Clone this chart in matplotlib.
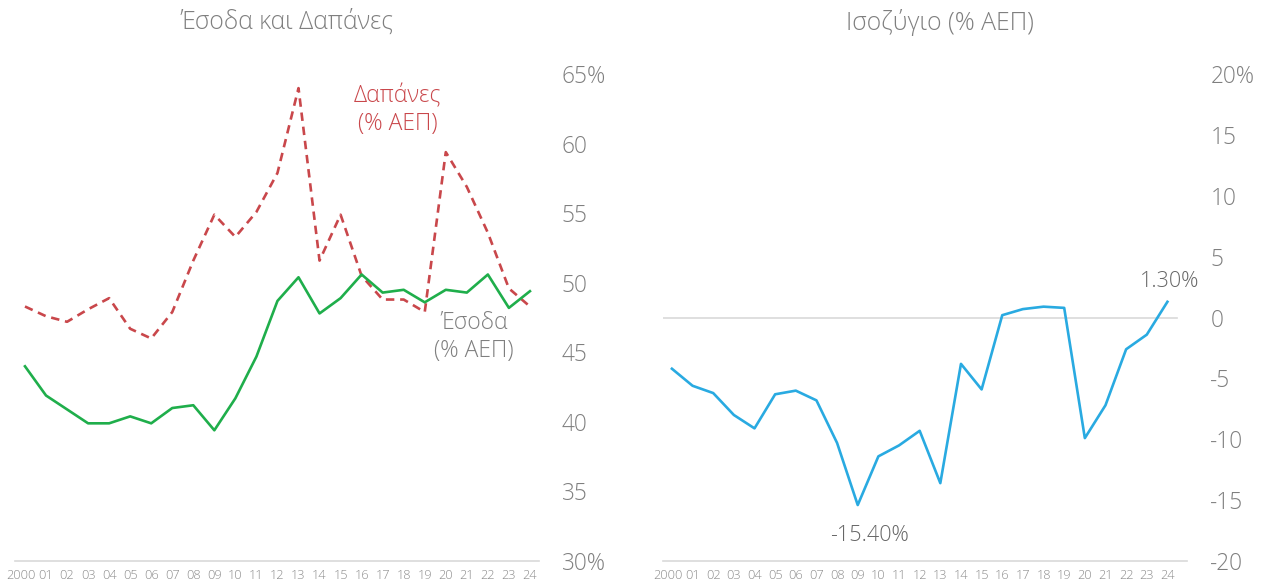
import matplotlib
matplotlib.use("Agg")
import matplotlib.pyplot as plt
import matplotlib.transforms as mtransforms

plt.rcParams['font.family'] = ['Open Sans', 'DejaVu Sans']
plt.rcParams['font.weight'] = 'light'

GREY = '#7f7f7f'
GREEN = '#1fae4b'
RED = '#c9474b'
BLUE = '#29aae1'

years = ['2000', '01', '02', '03', '04', '05', '06', '07', '08', '09', '10', '11', '12',
         '13', '14', '15', '16', '17', '18', '19', '20', '21', '22', '23', '24']

# % of GDP
revenue = [44.0, 41.9, 40.9, 39.9, 39.9, 40.4, 39.9, 41.0, 41.2, 39.4, 41.7, 44.7, 48.7,
           50.4, 47.8, 48.9, 50.6, 49.3, 49.5, 48.6, 49.5, 49.3, 50.6, 48.2, 49.4]
spending = [48.3, 47.6, 47.2, 48.1, 48.9, 46.7, 46.0, 47.9, 51.6, 54.9, 53.3, 55.1, 57.9,
            64.0, 51.6, 54.9, 50.5, 48.8, 48.8, 47.9, 59.4, 56.9, 53.6, 49.6, 48.3]
balance = [-4.2, -5.6, -6.2, -8.0, -9.1, -6.3, -6.0, -6.8, -10.3, -15.4, -11.4, -10.5, -9.3,
           -13.6, -3.8, -5.9, 0.2, 0.7, 0.9, 0.8, -9.9, -7.2, -2.6, -1.4, 1.3]

left_ticks = [30, 35, 40, 45, 50, 55, 60, 65]
left_labels = ['30%', '35', '40', '45', '50', '55', '60', '65%']
right_ticks = [-20, -15, -10, -5, 0, 5, 10, 15, 20]
right_labels = ['-20', '-15', '-10', '-5', '0', '5', '10', '15', '20%']

x = list(range(len(years)))

fig = plt.figure(figsize=(12.7, 5.83), dpi=100)
ax1 = fig.add_axes([0.0118, 0.0377, 0.4126, 0.835])
ax2 = fig.add_axes([0.522, 0.0377, 0.413, 0.835])


def style_axis(ax, ticks, labels):
    for side in ['top', 'left', 'right']:
        ax.spines[side].set_visible(False)
    ax.spines['bottom'].set_color('#d9d9d9')
    ax.spines['bottom'].set_linewidth(1.2)
    ax.yaxis.tick_right()
    ax.set_yticks(ticks)
    ax.set_yticklabels(labels, fontsize=16.3, color=GREY, ha='left')
    ax.tick_params(axis='y', length=0, pad=16.5)
    ax.set_xticks(x)
    ax.set_xticklabels(years, fontsize=9.2, color='#8c8c8c')
    ax.tick_params(axis='x', length=0, pad=6)
    # the long "2000" label sits a little to the left of its tick
    first = ax.get_xticklabels()[0]
    shift = mtransforms.ScaledTranslation(-4 / 100, 0, fig.dpi_scale_trans)
    first.set_transform(first.get_transform() + shift)


# left: revenue and spending
ax1.plot(x, spending, color=RED, lw=1.9, dashes=(3.2, 2.2))
ax1.plot(x, revenue, color=GREEN, lw=1.9)
ax1.set_xlim(-0.475, 24.43)
ax1.set_ylim(30, 65)
style_axis(ax1, left_ticks, left_labels)
fig.text(287 / 1270, 1 - 22 / 583, 'Έσοδα και Δαπάνες', fontsize=17.8, color=GREY,
         ha='center', va='center')
ax1.text(17.7, 62.4, 'Δαπάνες\n(% ΑΕΠ)', color=RED, fontsize=16.5, ha='center', va='center',
         linespacing=1.2)
ax1.text(21.35, 46.1, 'Έσοδα\n(% ΑΕΠ)', color=GREY, fontsize=16.5, ha='center', va='center',
         linespacing=1.2)

# right: balance
ax2.axhline(0, color='#d9d9d9', lw=1.2, xmin=0, xmax=0.98)
ax2.plot(x, balance, color=BLUE, lw=1.9)
ax2.set_xlim(-0.435, 24.97)
ax2.set_ylim(-20, 20)
style_axis(ax2, right_ticks, right_labels)
fig.text(940 / 1270, 1 - 22 / 583, 'Ισοζύγιο (% ΑΕΠ)', fontsize=17.8, color=GREY,
         ha='center', va='center')
i_min = balance.index(min(balance))
ax2.annotate('-15.40%', (i_min, balance[i_min]), xytext=(8.6, -21.6), textcoords='offset points',
             ha='center', va='center', fontsize=15.5, color='#666666')
ax2.annotate('1.30%', (24, balance[-1]), xytext=(1.4, 14.4), textcoords='offset points',
             ha='center', va='center', fontsize=15.5, color='#666666')

fig.savefig('out.png', dpi=100)
